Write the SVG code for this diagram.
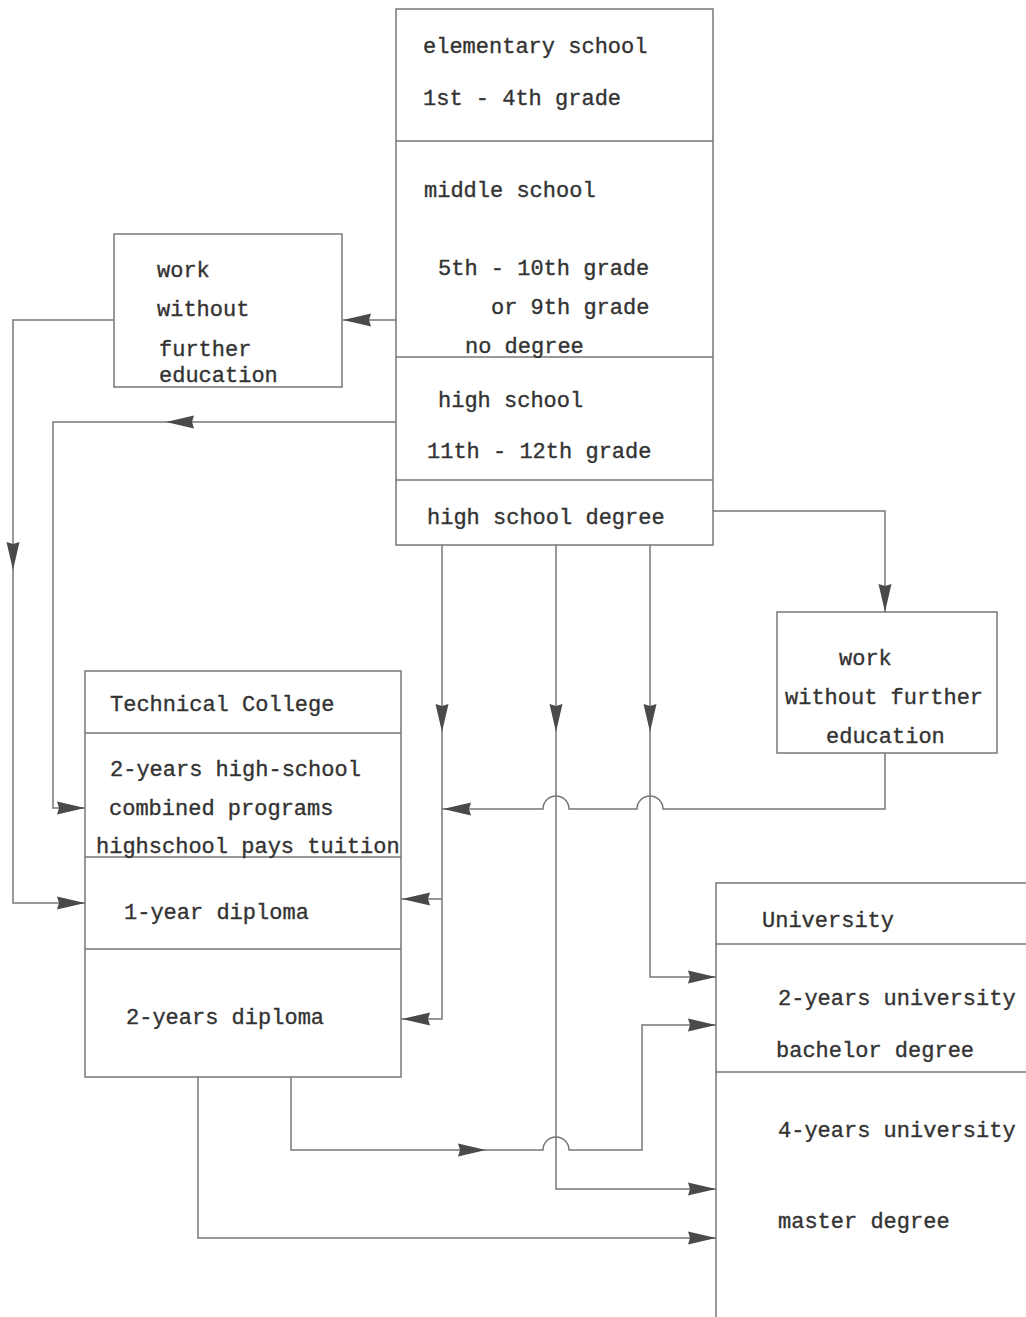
<svg xmlns="http://www.w3.org/2000/svg" xmlns:xlink="http://www.w3.org/1999/xlink" width="1026" height="1317" viewBox="0 0 1026 1317">
<style>
.box{fill:none;stroke:#777;stroke-width:1.5}
.div{stroke:#777;stroke-width:1.5}
.con{fill:none;stroke:#777;stroke-width:1.5}
.ah{fill:#4a4a4a}
text{font-family:"Liberation Mono","DejaVu Sans Mono",monospace;font-size:22px;fill:#333;stroke:#333;stroke-width:0.35}
</style>
<defs>
<path id="ah" d="M0,0 L-28,-6.5 L-26,0 L-28,6.5 Z"/>
</defs>
<rect width="1026" height="1317" fill="#ffffff"/>

<g id="school">
<rect class="box" x="396" y="9" width="317" height="536"/>
<line class="div" x1="396" y1="141" x2="713" y2="141"/>
<line class="div" x1="396" y1="357" x2="713" y2="357"/>
<line class="div" x1="396" y1="480" x2="713" y2="480"/>
<text x="423" y="53">elementary school</text>
<text x="423" y="105">1st - 4th grade</text>
<text x="424" y="197">middle school</text>
<text x="438" y="275">5th - 10th grade</text>
<text x="491" y="314">or 9th grade</text>
<text x="465" y="353">no degree</text>
<text x="438" y="407">high school</text>
<text x="427" y="458">11th - 12th grade</text>
<text x="427" y="524">high school degree</text>
</g>

<g id="work-left">
<rect class="box" x="114" y="234" width="228" height="153"/>
<text x="157" y="277">work</text>
<text x="157" y="316">without</text>
<text x="159" y="356">further</text>
<text x="159" y="382">education</text>
</g>

<g id="work-right">
<rect class="box" x="777" y="612" width="220" height="141"/>
<text x="839" y="665">work</text>
<text x="785" y="704">without further</text>
<text x="826" y="743">education</text>
</g>

<g id="technical-college">
<rect class="box" x="85" y="671" width="316" height="406"/>
<line class="div" x1="85" y1="733" x2="401" y2="733"/>
<line class="div" x1="85" y1="857" x2="401" y2="857"/>
<line class="div" x1="85" y1="949" x2="401" y2="949"/>
<text x="110" y="711">Technical College</text>
<text x="110" y="776">2-years high-school</text>
<text x="109" y="815">combined programs</text>
<text x="96" y="853">highschool pays tuition</text>
<text x="124" y="919">1-year diploma</text>
<text x="126" y="1024">2-years diploma</text>
</g>

<g id="university">
<path class="box" d="M716,1317 V883 H1026"/>
<line class="div" x1="716" y1="944" x2="1026" y2="944"/>
<line class="div" x1="716" y1="1072" x2="1026" y2="1072"/>
<text x="762" y="927">University</text>
<text x="778" y="1005">2-years university</text>
<text x="776" y="1057">bachelor degree</text>
<text x="778" y="1137">4-years university</text>
<text x="778" y="1228">master degree</text>
</g>

<g id="connectors">
<path class="con" d="M396,320 H343"/>
<path class="con" d="M114,320 H13 V903 H85"/>
<path class="con" d="M396,422 H53 V808 H85"/>
<path class="con" d="M713,511 H885 V612"/>
<path class="con" d="M885,753 V809 H663 A13,13 0 0 0 637,809 H569 A13,13 0 0 0 543,809 H442"/>
<path class="con" d="M442,545 V1019 H401 M442,899 H401"/>
<path class="con" d="M556,545 V1189 H716"/>
<path class="con" d="M650,545 V977 H716"/>
<path class="con" d="M291,1077 V1150 H543 A13,13 0 0 1 569,1150 H642 V1025 H716"/>
<path class="con" d="M198,1077 V1238 H716"/>

<use class="ah" xlink:href="#ah" transform="translate(343,320) rotate(180)"/>
<use class="ah" xlink:href="#ah" transform="translate(13,570) rotate(90)"/>
<use class="ah" xlink:href="#ah" transform="translate(85,903)"/>
<use class="ah" xlink:href="#ah" transform="translate(166,422) rotate(180)"/>
<use class="ah" xlink:href="#ah" transform="translate(85,808)"/>
<use class="ah" xlink:href="#ah" transform="translate(885,612) rotate(90)"/>
<use class="ah" xlink:href="#ah" transform="translate(443,809) rotate(180)"/>
<use class="ah" xlink:href="#ah" transform="translate(442,732) rotate(90)"/>
<use class="ah" xlink:href="#ah" transform="translate(556,732) rotate(90)"/>
<use class="ah" xlink:href="#ah" transform="translate(650,732) rotate(90)"/>
<use class="ah" xlink:href="#ah" transform="translate(402,899) rotate(180)"/>
<use class="ah" xlink:href="#ah" transform="translate(402,1019) rotate(180)"/>
<use class="ah" xlink:href="#ah" transform="translate(716,977)"/>
<use class="ah" xlink:href="#ah" transform="translate(716,1025)"/>
<use class="ah" xlink:href="#ah" transform="translate(486,1150)"/>
<use class="ah" xlink:href="#ah" transform="translate(716,1189)"/>
<use class="ah" xlink:href="#ah" transform="translate(716,1238)"/>
</g>
</svg>
